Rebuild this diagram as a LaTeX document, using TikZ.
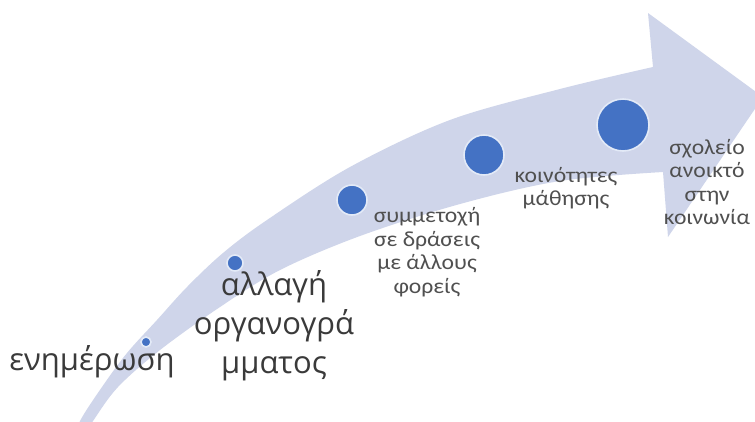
\documentclass[tikz,border=0pt]{standalone}
\usepackage{fontspec}
\setmainfont{Open Sans}
\newfontfamily\smallfont[FakeStretch=1.1]{Carlito}
\definecolor{arrowfill}{HTML}{CFD5EA}
\definecolor{dotfill}{HTML}{4472C4}
\definecolor{dotring}{HTML}{E3EAF7}
\definecolor{bigtext}{HTML}{3A3A3A}
\definecolor{smalltext}{HTML}{505050}
\tikzset{
  dot/.style={circle, fill=dotfill, draw=dotring, line width=1.6pt, inner sep=0pt, minimum size=#1},
  biglabel/.style={font=\fontsize{31}{39}\selectfont, text=bigtext, align=center, inner sep=0pt},
  smalllabel/.style={font=\smallfont\fontsize{21.5}{23.5}\selectfont, text=smalltext, align=center, inner sep=0pt}
}
\begin{document}
\begin{tikzpicture}[x=1pt,y=-1pt]
\useasboundingbox (0,0) rectangle (755,421);
\fill[white] (0,0) rectangle (755,421);
\begin{scope}
\clip (0,0) rectangle (755,421);
\fill[arrowfill]
  plot[smooth, tension=0.55] coordinates {(72,445) (80,421) (102,387) (127,353) (157,320) (187,287) (223,253) (267,220) (350,167) (450,120) (560,89) (653,67)}
  -- (648,13) -- (763,97) -- (668,237) -- (663,172)
  -- plot[smooth, tension=0.55] coordinates {(663,172) (560,181) (460,204) (360,236) (280,270) (220,307) (160,350) (118,387) (93,421) (78,445)}
  -- cycle;
\end{scope}
\node[dot=10pt] (d1) at (146,342) {};
\node[dot=16pt] (d2) at (235,263) {};
\node[dot=30pt] (d3) at (352,200) {};
\node[dot=40pt] (d4) at (484,155) {};
\node[dot=52pt] (d5) at (623,125) {};
\node[biglabel, anchor=base] (l1) at (92,370) {ενημέρωση};
\node[biglabel] (l2) at (274,326) {αλλαγή\\οργανογρά\\μματος};
\node[smalllabel] (l3) at (427,252) {συμμετοχή\\σε δράσεις\\με άλλους\\φορείς};
\node[smalllabel] (l4) at (566,188) {κοινότητες\\μάθησης};
\node[smalllabel] (l5) at (707,182) {σχολείο\\ανοικτό\\στην\\κοινωνία};
\end{tikzpicture}
\end{document}
